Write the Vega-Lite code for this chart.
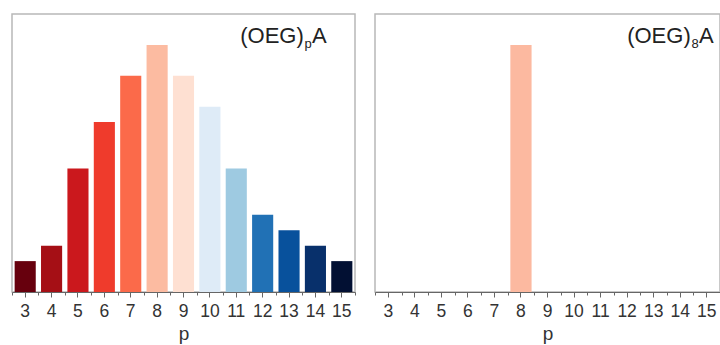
{
  "$schema": "https://vega.github.io/schema/vega-lite/v6.json",
  "padding": {"left": 10, "top": 13, "right": 0, "bottom": 0},
  "spacing": 20,
  "bounds": "flush",
  "config": {
    "font": "Liberation Sans",
    "view": {"stroke": "#b8b8b8", "strokeWidth": 1.5},
    "axis": {"domainColor": "#666666", "tickColor": "#666666", "labelColor": "#333333", "titleColor": "#333333", "grid": false}
  },
  "datasets": {
    "dist": [
      {"p": 3, "v": 1}, {"p": 4, "v": 1.5}, {"p": 5, "v": 4}, {"p": 6, "v": 5.5},
      {"p": 7, "v": 7}, {"p": 8, "v": 8}, {"p": 9, "v": 7}, {"p": 10, "v": 6},
      {"p": 11, "v": 4}, {"p": 12, "v": 2.5}, {"p": 13, "v": 2}, {"p": 14, "v": 1.5},
      {"p": 15, "v": 1}
    ],
    "single": [{"p": 8, "v": 8}],
    "labelLeft": [{"pre": "(OEG)", "sub": "p", "post": "A"}],
    "labelRight": [{"pre": "(OEG)", "sub": "8", "post": "A"}]
  },
  "hconcat": [
    {
      "width": 343,
      "height": 278,
      "resolve": {"scale": {"x": "independent"}, "axis": {"x": "independent"}},
      "layer": [
        {
          "data": {"name": "dist"},
          "mark": {"type": "bar"},
          "encoding": {
            "x": {"field": "p", "type": "ordinal",
              "scale": {"domain": [3,4,5,6,7,8,9,10,11,12,13,14,15], "paddingInner": 0.2, "paddingOuter": 0.1},
              "axis": {"orient": "bottom", "title": "p", "labelAngle": 0, "labelFontSize": 17.5, "titleFontSize": 19, "titleFontWeight": "normal", "tickSize": 5, "labelPadding": 5, "titlePadding": 5}},
            "y": {"field": "v", "type": "quantitative", "scale": {"domain": [0, 9], "nice": false}, "axis": null},
            "color": {"field": "p", "type": "ordinal", "legend": null,
              "scale": {"domain": [3,4,5,6,7,8,9,10,11,12,13,14,15],
                "range": ["#67000d","#a50f15","#cb181d","#ef3b2c","#fb6a4a","#fcbba1","#fee0d2","#deebf7","#9ecae1","#2171b5","#08519c","#08306b","#021033"]}}
          }
        },
        {
          "data": {"name": "labelLeft"},
          "encoding": {
            "x": {"datum": 15, "type": "quantitative",
              "scale": {"domain": [2.5, 15.5], "nice": false, "zero": false},
              "axis": {"orient": "bottom", "values": [2.5,3.5,4.5,5.5,6.5,7.5,8.5,9.5,10.5,11.5,12.5,13.5,14.5,15.5], "labels": false, "domain": false, "tickSize": 3, "title": null}},
            "y": {"datum": 8.06, "type": "quantitative"}
          },
          "layer": [
            {"mark": {"type": "text", "align": "right", "baseline": "alphabetic", "fontSize": 22, "color": "#222222", "dx": -38}, "encoding": {"text": {"field": "pre"}}},
            {"mark": {"type": "text", "align": "right", "baseline": "alphabetic", "fontSize": 13, "color": "#222222", "dx": -30, "dy": 5}, "encoding": {"text": {"field": "sub"}}},
            {"mark": {"type": "text", "align": "right", "baseline": "alphabetic", "fontSize": 22, "color": "#222222", "dx": -15}, "encoding": {"text": {"field": "post"}}}
          ]
        }
      ]
    },
    {
      "width": 345,
      "height": 278,
      "resolve": {"scale": {"x": "independent"}, "axis": {"x": "independent"}},
      "layer": [
        {
          "data": {"name": "single"},
          "mark": {"type": "bar"},
          "encoding": {
            "x": {"field": "p", "type": "ordinal",
              "scale": {"domain": [3,4,5,6,7,8,9,10,11,12,13,14,15], "paddingInner": 0.2, "paddingOuter": 0.1},
              "axis": {"orient": "bottom", "title": "p", "labelAngle": 0, "labelFontSize": 17.5, "titleFontSize": 19, "titleFontWeight": "normal", "tickSize": 5, "labelPadding": 5, "titlePadding": 5}},
            "y": {"field": "v", "type": "quantitative", "scale": {"domain": [0, 9], "nice": false}, "axis": null},
            "color": {"value": "#fcb9a0"}
          }
        },
        {
          "data": {"name": "labelRight"},
          "encoding": {
            "x": {"datum": 15, "type": "quantitative",
              "scale": {"domain": [2.5, 15.5], "nice": false, "zero": false},
              "axis": {"orient": "bottom", "values": [2.5,3.5,4.5,5.5,6.5,7.5,8.5,9.5,10.5,11.5,12.5,13.5,14.5,15.5], "labels": false, "domain": false, "tickSize": 3, "title": null}},
            "y": {"datum": 8.06, "type": "quantitative"}
          },
          "layer": [
            {"mark": {"type": "text", "align": "right", "baseline": "alphabetic", "fontSize": 22, "color": "#222222", "dx": -16}, "encoding": {"text": {"field": "pre"}}},
            {"mark": {"type": "text", "align": "right", "baseline": "alphabetic", "fontSize": 13, "color": "#222222", "dx": -8, "dy": 5}, "encoding": {"text": {"field": "sub"}}},
            {"mark": {"type": "text", "align": "right", "baseline": "alphabetic", "fontSize": 22, "color": "#222222", "dx": 7}, "encoding": {"text": {"field": "post"}}}
          ]
        }
      ]
    }
  ]
}
